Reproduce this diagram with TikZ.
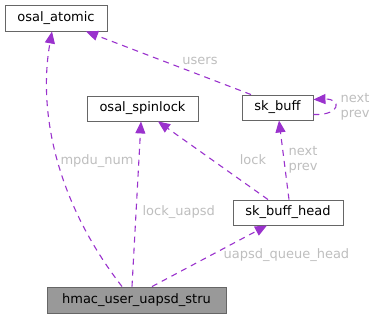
\documentclass[tikz,border=0pt]{standalone}
\usepackage{fontspec}
\setmainfont{DejaVu Sans}
\usetikzlibrary{arrows.meta, positioning}
\definecolor{edgecol}{HTML}{9A32CD}
\definecolor{boxline}{HTML}{666666}
\definecolor{rootfill}{HTML}{999999}
\definecolor{lblcol}{HTML}{BEBEBE}

\begin{document}
\begin{tikzpicture}[
  x=1pt, y=-1pt,
  font=\fontsize{13}{15.5}\selectfont,
  >={Triangle[length=12pt, width=10pt]},
  cls/.style={rectangle, draw=boxline, line width=0.9pt, fill=white, inner sep=0pt, minimum height=25pt},
  root/.style={cls, fill=rootfill},
  edge/.style={draw=edgecol, line width=1.1pt, dash pattern=on 6pt off 5pt},
  lbl/.style={text=lblcol, inner sep=0pt, align=left}
]
\useasboundingbox (0,0) rectangle (375,319);

\node[cls, minimum width=102pt, minimum height=26pt] (atomic) at (56,18) {osal\_atomic};
\node[cls, minimum width=111pt] (spinlock) at (142.5,108.5) {osal\_spinlock};
\node[cls, minimum width=71pt] (skbuff) at (277.5,107.5) {sk\_buff};
\node[cls, minimum width=110pt] (skhead) at (288,212.5) {sk\_buff\_head};
\node[root, minimum width=179pt, minimum height=26pt] (hmac) at (136.5,300) {hmac\_user\_uapsd\_stru};

\draw[->, edge] ([xshift=-14.5pt]hmac.north) .. controls (55,200) and (38,110) .. ([xshift=-4pt]atomic.south)
  node[lbl, anchor=west] at (60,161) {mpdu\_num};
\draw[->, edge] ([xshift=-4.5pt]hmac.north) -- ([xshift=-1.5pt]spinlock.south)
  node[lbl, anchor=west] at (142,212) {lock\_uapsd};
\draw[->, edge] ([xshift=15.5pt]hmac.north) -- ([xshift=-21pt]skhead.south)
  node[lbl, anchor=west] at (223,255) {uapsd\_queue\_head};
\draw[->, edge] ([xshift=-20pt]skhead.north) -- ([xshift=15.5pt]spinlock.south)
  node[lbl] at (253,160) {lock};
\draw[->, edge] ([xshift=1pt]skhead.north) -- ([xshift=1.5pt]skbuff.south)
  node[lbl, anchor=west] at (288,160) {next\\prev};
\draw[->, edge] ([xshift=-26.5pt]skbuff.north) -- ([xshift=30pt]atomic.south)
  node[lbl] at (200,61) {users};
\draw[->, edge] ([yshift=-7pt]skbuff.east) .. controls +(28pt,-1pt) and +(28pt,1pt) .. ([yshift=8pt]skbuff.east)
  node[lbl, anchor=west] at (340,107) {next\\prev};
\end{tikzpicture}
\end{document}
